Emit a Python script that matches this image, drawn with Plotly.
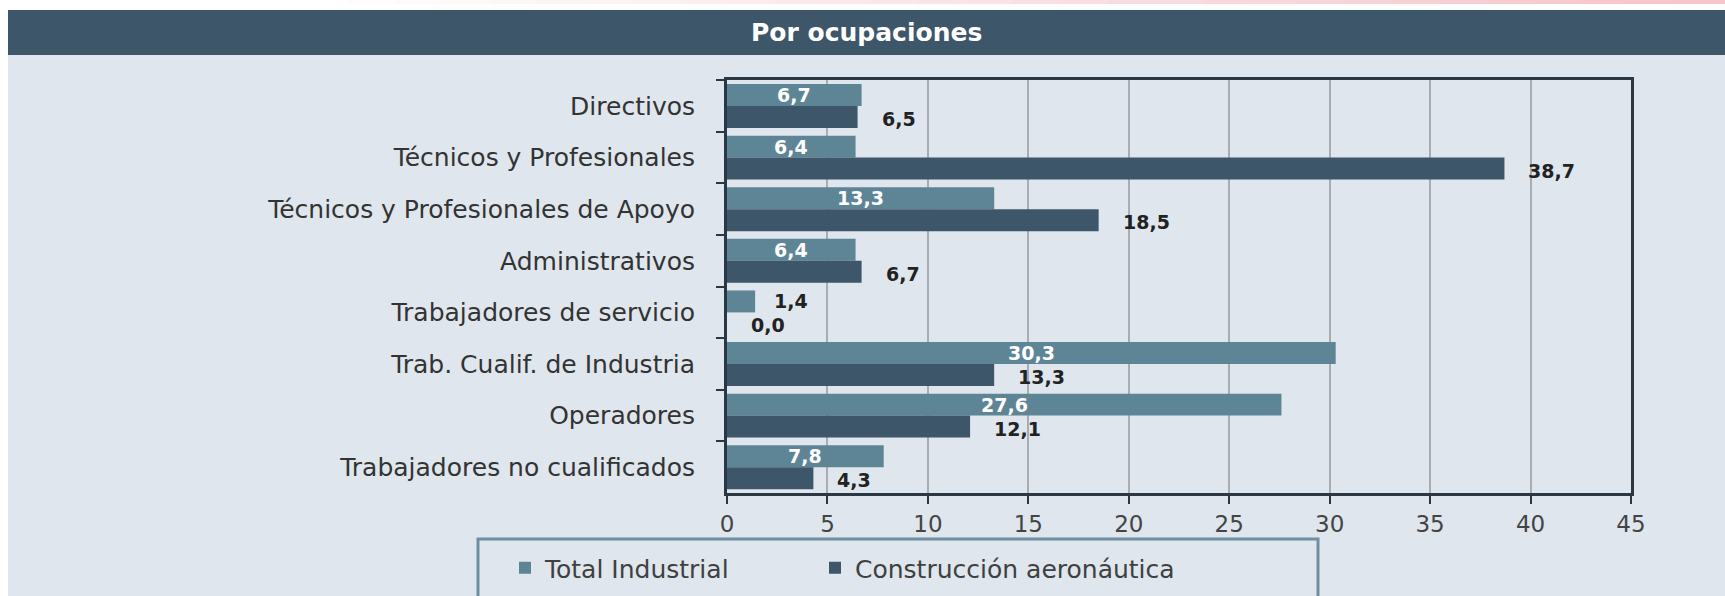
import plotly.graph_objects as go

# ---- data ----
categories = [
    "Directivos",
    "Técnicos y Profesionales",
    "Técnicos y Profesionales de Apoyo",
    "Administrativos",
    "Trabajadores de servicio",
    "Trab. Cualif. de Industria",
    "Operadores",
    "Trabajadores no cualificados",
]
total_industrial = [6.7, 6.4, 13.3, 6.4, 1.4, 30.3, 27.6, 7.8]
construccion_aero = [6.5, 38.7, 18.5, 6.7, 0.0, 13.3, 12.1, 4.3]
series_names = ["Total Industrial", "Construcción aeronáutica"]
x_ticks = [0, 5, 10, 15, 20, 25, 30, 35, 40, 45]
title_text = "Por ocupaciones"

# ---- style ----
W, H = 1725, 596
ML, MR, MT, MB = 727, 94, 80, 103
PW, PH = W - ML - MR, H - MT - MB
C_LIGHT = "#5E8596"
C_DARK = "#3D5669"
BG = "#DFE6ED"
FONT = "DejaVu Sans"


def px2x(px):
    return (px - ML) / PW


def py2y(py):
    return (H - MB - py) / PH


def fmt(v):
    return f"{v:.1f}".replace(".", ",")


fig = go.Figure()
fig.add_trace(go.Bar(
    y=categories, x=total_industrial, name=series_names[0], orientation="h",
    marker=dict(color=C_LIGHT, line=dict(width=0)), hoverinfo="x+y", legend="legend",
))
fig.add_trace(go.Bar(
    y=categories, x=construccion_aero, name=series_names[1], orientation="h",
    marker=dict(color=C_DARK, line=dict(width=0)), hoverinfo="x+y", legend="legend2",
))

annotations = []
# value labels
for cat, v in zip(categories, total_industrial):
    if v >= 3:
        annotations.append(dict(x=v / 2, y=cat, xref="x", yref="y", text=f"<b>{fmt(v)}</b>",
                                showarrow=False, xanchor="center", yanchor="middle", yshift=11,
                                font=dict(family=FONT, size=19, color="white")))
    else:
        annotations.append(dict(x=v, y=cat, xref="x", yref="y", text=f"<b>{fmt(v)}</b>",
                                showarrow=False, xanchor="left", yanchor="middle", yshift=11, xshift=17,
                                font=dict(family=FONT, size=19, color="#222222")))
for cat, v in zip(categories, construccion_aero):
    annotations.append(dict(x=v, y=cat, xref="x", yref="y", text=f"<b>{fmt(v)}</b>",
                            showarrow=False, xanchor="left", yanchor="middle", yshift=-13, xshift=22,
                            font=dict(family=FONT, size=19, color="#222222")))

# title
annotations.append(dict(x=px2x(866), y=py2y(33), xref="paper", yref="paper",
                        text=f"<b>{title_text}</b>", showarrow=False,
                        xanchor="center", yanchor="middle",
                        font=dict(family=FONT, size=25, color="white")))

shapes = []
# white left strip and top strip
shapes.append(dict(type="rect", xref="paper", yref="paper", layer="below",
                   x0=px2x(-5), x1=px2x(8), y0=py2y(H + 5), y1=py2y(-5),
                   fillcolor="white", line=dict(width=0)))
shapes.append(dict(type="rect", xref="paper", yref="paper", layer="below",
                   x0=px2x(-5), x1=px2x(W + 5), y0=py2y(10), y1=py2y(-5),
                   fillcolor="white", line=dict(width=0)))
# pink gradient strip at very top
n = 30
for i in range(n):
    t = i / (n - 1)
    r = 255 + (246 - 255) * t
    g = 255 + (196 - 255) * t
    b = 255 + (202 - 255) * t
    x0 = 300 + (W - 300) * i / n
    x1 = 300 + (W - 300) * (i + 1) / n + 1
    shapes.append(dict(type="rect", xref="paper", yref="paper", layer="below",
                       x0=px2x(x0), x1=px2x(x1), y0=py2y(4), y1=py2y(-5),
                       fillcolor=f"rgb({int(r)},{int(g)},{int(b)})", line=dict(width=0)))
# title bar
shapes.append(dict(type="rect", xref="paper", yref="paper", layer="below",
                   x0=px2x(8), x1=px2x(W + 5), y0=py2y(55), y1=py2y(10),
                   fillcolor=C_DARK, line=dict(width=0)))
# legend box
shapes.append(dict(type="rect", xref="paper", yref="paper", layer="above",
                   x0=px2x(478), x1=px2x(1318), y0=py2y(640), y1=py2y(539),
                   fillcolor="rgba(0,0,0,0)", line=dict(color="#6E90A1", width=3)))

leg_common = dict(orientation="h", xanchor="left", yanchor="top", xref="container", yref="container",
                  bgcolor="rgba(0,0,0,0)", borderwidth=0,
                  font=dict(family=FONT, size=25, color="#404040"))

fig.update_layout(
    width=W, height=H,
    margin=dict(l=ML, r=MR, t=MT, b=MB, pad=0, autoexpand=False),
    paper_bgcolor=BG, plot_bgcolor=BG,
    barmode="group", bargap=0.15, bargroupgap=0,
    font=dict(family=FONT, size=24, color="#333333"),
    showlegend=True,
    legend=dict(x=505 / W, y=(H - 545) / H, **leg_common),
    legend2=dict(x=815 / W, y=(H - 545) / H, **leg_common),
    annotations=annotations,
    shapes=shapes,
    xaxis=dict(range=[0, 45], tickvals=x_ticks, ticktext=[str(t) for t in x_ticks],
               showgrid=True, gridcolor="#A7ADB2", gridwidth=1.5, zeroline=False,
               showline=True, linecolor="#2B3843", linewidth=3, mirror=True,
               ticks="outside", ticklen=8, tickwidth=2, tickcolor="#2B3843",
               tickfont=dict(family=FONT, size=23, color="#444444"), fixedrange=True,
               automargin=False),
    yaxis=dict(type="category", autorange="reversed", categoryorder="array", categoryarray=categories,
               showgrid=False, zeroline=False,
               showline=True, linecolor="#2B3843", linewidth=3, mirror=True,
               ticks="outside", ticklen=8, tickwidth=2, tickcolor="#2B3843", tickson="boundaries",
               ticklabelstandoff=24,
               tickfont=dict(family=FONT, size=25, color="#333333"), fixedrange=True,
               automargin=False),
)

fig.write_html(
    "out.html",
    config={"displayModeBar": False},
    post_script="document.body.style.margin='0';document.body.style.padding='0';document.body.style.overflow='hidden';",
)
